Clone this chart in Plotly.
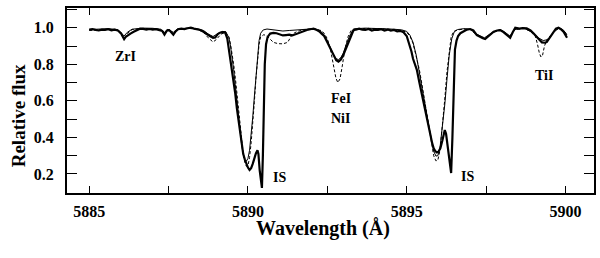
import plotly.graph_objects as go

# Observed spectrum (thick line)
obs_wl = [5885.00, 5885.10, 5885.20, 5885.30, 5885.40, 5885.50, 5885.60, 5885.70, 5885.80, 5885.90,
          5886.00, 5886.05, 5886.10, 5886.15, 5886.22, 5886.30, 5886.40, 5886.50, 5886.60, 5886.70,
          5886.80, 5886.90, 5887.00, 5887.10, 5887.20, 5887.30, 5887.37, 5887.45, 5887.52, 5887.58,
          5887.65, 5887.72, 5887.80, 5887.90, 5888.00, 5888.10, 5888.20, 5888.30, 5888.40, 5888.50,
          5888.60, 5888.70, 5888.80, 5888.90, 5888.97, 5889.05, 5889.12, 5889.20, 5889.28, 5889.35,
          5889.40, 5889.45, 5889.50, 5889.55, 5889.60, 5889.65, 5889.70, 5889.75, 5889.80, 5889.85,
          5889.90, 5889.95, 5890.00, 5890.05, 5890.10, 5890.15, 5890.20, 5890.25, 5890.30, 5890.33,
          5890.37, 5890.41, 5890.44, 5890.47, 5890.50, 5890.53, 5890.57, 5890.62, 5890.70, 5890.80,
          5890.90, 5891.00, 5891.10, 5891.20, 5891.30, 5891.40, 5891.50, 5891.60, 5891.70, 5891.80,
          5891.90, 5892.00, 5892.07, 5892.17, 5892.25, 5892.32, 5892.40, 5892.50, 5892.60, 5892.70,
          5892.78, 5892.85, 5892.92, 5893.00, 5893.08, 5893.17, 5893.25, 5893.32, 5893.40, 5893.50,
          5893.60, 5893.70, 5893.80, 5893.90, 5894.00, 5894.10, 5894.20, 5894.30, 5894.40, 5894.50,
          5894.60, 5894.70, 5894.80, 5894.90, 5895.00, 5895.05, 5895.10, 5895.15, 5895.20, 5895.25,
          5895.32, 5895.40, 5895.47, 5895.53, 5895.60, 5895.67, 5895.74, 5895.80, 5895.85, 5895.90,
          5895.95, 5896.00, 5896.06, 5896.12, 5896.16, 5896.20, 5896.24, 5896.30, 5896.36, 5896.40,
          5896.44, 5896.48, 5896.52, 5896.57, 5896.62, 5896.69, 5896.80, 5896.90, 5897.00, 5897.10,
          5897.21, 5897.30, 5897.40, 5897.47, 5897.55, 5897.65, 5897.74, 5897.85, 5897.94, 5898.02,
          5898.10, 5898.18, 5898.26, 5898.34, 5898.42, 5898.55, 5898.65, 5898.78, 5898.90, 5899.00,
          5899.05, 5899.15, 5899.26, 5899.35, 5899.41, 5899.50, 5899.62, 5899.70, 5899.78, 5899.86,
          5899.94, 5900.00, 5900.05]
obs_flux = [0.990, 0.992, 0.988, 0.985, 0.990, 0.988, 0.992, 0.986, 0.990, 0.985,
            0.970, 0.955, 0.938, 0.950, 0.960, 0.968, 0.978, 0.985, 0.995, 0.994,
            0.990, 0.993, 0.990, 0.992, 0.988, 0.982, 0.962, 0.985, 0.987, 0.975,
            0.962, 0.980, 0.992, 0.995, 0.993, 0.997, 1.000, 0.995, 0.993, 0.988,
            0.978, 0.965, 0.955, 0.945, 0.947, 0.965, 0.973, 0.976, 0.975, 0.940,
            0.890, 0.820, 0.760, 0.710, 0.640, 0.560, 0.495, 0.420, 0.350, 0.310,
            0.280, 0.255, 0.235, 0.222, 0.232, 0.255, 0.290, 0.312, 0.330, 0.310,
            0.220, 0.150, 0.124, 0.300, 0.600, 0.800, 0.910, 0.950, 0.968, 0.972,
            0.970, 0.962, 0.958, 0.960, 0.962, 0.958, 0.965, 0.970, 0.975, 0.985,
            0.990, 0.993, 0.995, 0.987, 0.980, 0.968, 0.955, 0.920, 0.885, 0.845,
            0.822, 0.815, 0.825, 0.850, 0.885, 0.920, 0.960, 0.985, 0.990, 0.995,
            0.990, 0.988, 0.993, 0.985, 0.990, 0.988, 0.992, 0.985, 0.990, 0.984,
            0.988, 0.980, 0.983, 0.975, 0.955, 0.930, 0.900, 0.870, 0.830, 0.800,
            0.770, 0.700, 0.640, 0.590, 0.520, 0.470, 0.420, 0.370, 0.340, 0.325,
            0.318, 0.322, 0.340, 0.380, 0.420, 0.440, 0.420, 0.330, 0.250, 0.205,
            0.400, 0.680, 0.880, 0.930, 0.955, 0.970, 0.980, 0.990, 0.993, 0.985,
            0.960, 0.950, 0.942, 0.938, 0.950, 0.968, 0.978, 0.985, 0.987, 0.980,
            0.970, 0.955, 0.945, 0.975, 1.000, 0.995, 0.998, 0.997, 0.985, 0.968,
            0.960, 0.940, 0.920, 0.918, 0.922, 0.945, 0.980, 0.995, 1.000, 0.992,
            0.978, 0.960, 0.945]

# Model 1 (thin solid)
m1_wl = [5885.00, 5885.30, 5885.60, 5885.90, 5886.00, 5886.10, 5886.20, 5886.35, 5886.70, 5887.00,
         5887.25, 5887.37, 5887.48, 5887.65, 5887.78, 5888.10, 5888.40, 5888.60, 5888.75, 5888.90,
         5889.05, 5889.20, 5889.30, 5889.40, 5889.45, 5889.50, 5889.55, 5889.60, 5889.65, 5889.70,
         5889.75, 5889.80, 5889.85, 5889.90, 5889.95, 5890.00, 5890.05, 5890.10, 5890.15, 5890.20,
         5890.25, 5890.30, 5890.35, 5890.40, 5890.48, 5890.60, 5890.75, 5890.90, 5891.10, 5891.30,
         5891.50, 5891.70, 5891.90, 5892.10, 5892.20, 5892.30, 5892.40, 5892.50, 5892.60, 5892.70,
         5892.78, 5892.85, 5892.92, 5893.00, 5893.10, 5893.20, 5893.30, 5893.40, 5893.70, 5894.00,
         5894.30, 5894.60, 5894.85, 5895.00, 5895.10, 5895.20, 5895.30, 5895.40, 5895.50, 5895.60,
         5895.70, 5895.78, 5895.85, 5895.92, 5895.98, 5896.05, 5896.12, 5896.20, 5896.27, 5896.34,
         5896.42, 5896.50, 5896.60, 5896.80, 5897.00, 5897.20, 5897.45, 5897.70, 5897.95, 5898.10,
         5898.25, 5898.40, 5898.70, 5898.95, 5899.15, 5899.30, 5899.45, 5899.62, 5899.80, 5899.95,
         5900.05]
m1_flux = [0.990, 0.992, 0.995, 0.990, 0.975, 0.955, 0.975, 0.992, 0.998, 0.997,
           0.992, 0.975, 0.992, 0.975, 0.993, 0.998, 0.995, 0.985, 0.965, 0.952,
           0.968, 0.980, 0.978, 0.945, 0.900, 0.840, 0.770, 0.690, 0.600, 0.510,
           0.430, 0.360, 0.310, 0.280, 0.270, 0.285, 0.330, 0.410, 0.510, 0.620,
           0.740, 0.850, 0.930, 0.970, 0.988, 0.993, 0.990, 0.985, 0.982, 0.985,
           0.988, 0.992, 0.995, 0.995, 0.990, 0.980, 0.960, 0.930, 0.890, 0.850,
           0.830, 0.826, 0.835, 0.860, 0.910, 0.955, 0.985, 0.995, 0.998, 0.997,
           0.995, 0.992, 0.988, 0.980, 0.960, 0.920, 0.850, 0.760, 0.660, 0.560,
           0.460, 0.380, 0.325, 0.298, 0.300, 0.345, 0.440, 0.580, 0.720, 0.850,
           0.940, 0.978, 0.990, 0.995, 0.992, 0.965, 0.945, 0.975, 0.990, 0.975,
           0.955, 0.990, 0.998, 0.975, 0.945, 0.930, 0.935, 0.975, 0.998, 0.985,
           0.960]

# Model 2 (dashed)
m2_wl = [5885.00, 5885.30, 5885.60, 5885.90, 5886.00, 5886.10, 5886.20, 5886.35, 5886.70, 5887.00,
         5887.25, 5887.37, 5887.48, 5887.65, 5887.78, 5888.10, 5888.40, 5888.60, 5888.75, 5888.90,
         5889.00, 5889.15, 5889.30, 5889.40, 5889.45, 5889.50, 5889.55, 5889.60, 5889.65, 5889.70,
         5889.75, 5889.80, 5889.85, 5889.90, 5889.95, 5890.00, 5890.05, 5890.10, 5890.15, 5890.20,
         5890.25, 5890.30, 5890.35, 5890.40, 5890.50, 5890.60, 5890.70, 5890.80, 5890.95, 5891.10,
         5891.25, 5891.40, 5891.55, 5891.80, 5892.10, 5892.30, 5892.40, 5892.50, 5892.60, 5892.70,
         5892.77, 5892.83, 5892.90, 5892.97, 5893.05, 5893.15, 5893.25, 5893.35, 5893.70, 5894.00,
         5894.30, 5894.60, 5894.85, 5895.00, 5895.10, 5895.20, 5895.30, 5895.40, 5895.50, 5895.60,
         5895.70, 5895.78, 5895.85, 5895.92, 5895.98, 5896.05, 5896.12, 5896.20, 5896.27, 5896.34,
         5896.40, 5896.48, 5896.60, 5896.80, 5897.00, 5897.20, 5897.45, 5897.70, 5897.95, 5898.10,
         5898.25, 5898.40, 5898.70, 5898.95, 5899.05, 5899.12, 5899.18, 5899.23, 5899.28, 5899.34,
         5899.42, 5899.55, 5899.70, 5899.80, 5899.95, 5900.05]
m2_flux = [0.985, 0.990, 0.992, 0.985, 0.965, 0.940, 0.968, 0.990, 0.996, 0.995,
           0.990, 0.968, 0.990, 0.968, 0.990, 0.997, 0.992, 0.975, 0.945, 0.922,
           0.935, 0.965, 0.975, 0.950, 0.910, 0.860, 0.800, 0.730, 0.650, 0.560,
           0.470, 0.380, 0.310, 0.265, 0.242, 0.245, 0.290, 0.370, 0.470, 0.590,
           0.720, 0.830, 0.910, 0.950, 0.962, 0.955, 0.935, 0.920, 0.913, 0.912,
           0.920, 0.965, 0.980, 0.990, 0.993, 0.985, 0.970, 0.940, 0.880, 0.790,
           0.725, 0.700, 0.720, 0.790, 0.880, 0.950, 0.985, 0.995, 0.997, 0.996,
           0.994, 0.990, 0.985, 0.975, 0.955, 0.915, 0.850, 0.770, 0.670, 0.560,
           0.450, 0.360, 0.300, 0.272, 0.275, 0.330, 0.450, 0.610, 0.760, 0.880,
           0.950, 0.980, 0.988, 0.993, 0.990, 0.962, 0.940, 0.972, 0.990, 0.972,
           0.950, 0.990, 0.997, 0.975, 0.955, 0.910, 0.860, 0.840, 0.850, 0.900,
           0.935, 0.960, 0.990, 0.998, 0.985, 0.960]

# Line identifications
label_text = ["ZrI", "FeI", "NiI", "IS", "IS", "TiI"]
label_wl = [5886.15, 5892.92, 5892.92, 5891.0, 5896.9, 5899.32]
label_flux = [0.84, 0.615, 0.505, 0.18, 0.184, 0.74]

FONT = "Liberation Serif"

fig = go.Figure()
fig.add_trace(go.Scatter(x=m2_wl, y=m2_flux, mode="lines",
                         line=dict(color="black", width=1, dash="3px,2px")))
fig.add_trace(go.Scatter(x=m1_wl, y=m1_flux, mode="lines",
                         line=dict(color="black", width=1)))
fig.add_trace(go.Scatter(x=obs_wl, y=obs_flux, mode="lines",
                         line=dict(color="black", width=2.2)))

for t, xv, yv in zip(label_text, label_wl, label_flux):
    fig.add_annotation(x=xv, y=yv, text=t, showarrow=False,
                       font=dict(family=FONT, size=14, color="black", weight="bold"))

# Axis titles placed in paper coordinates (plot area: x 67-594 px, y 8-193 px)
fig.add_annotation(xref="paper", yref="paper", x=-0.093, y=0.42, text="Relative flux",
                   textangle=-90, showarrow=False, xanchor="center", yanchor="middle",
                   font=dict(family=FONT, size=19, color="black", weight="bold"))
fig.add_annotation(xref="paper", yref="paper", x=0.485, y=-0.19, text="Wavelength (Å)",
                   showarrow=False, xanchor="center", yanchor="middle",
                   font=dict(family=FONT, size=20, color="black", weight="bold"))

fig.update_layout(
    width=600, height=258,
    margin=dict(l=67, r=6, t=8, b=65, autoexpand=False),
    paper_bgcolor="white", plot_bgcolor="white",
    showlegend=False,
)
fig.update_xaxes(range=[5884.3, 5900.9], showgrid=False, zeroline=False, automargin=False,
                 showline=True, linecolor="black", linewidth=2, mirror="ticks",
                 ticks="inside", ticklen=7, tickwidth=1, tickcolor="black",
                 tick0=5885, dtick=5, ticklabelstandoff=3,
                 minor=dict(ticks="inside", ticklen=7, tickwidth=1, tickcolor="black", dtick=2.5, tick0=5885),
                 tickfont=dict(family=FONT, size=16, color="black", weight="bold"))
fig.update_yaxes(range=[0.096, 1.108], showgrid=False, zeroline=False, automargin=False,
                 showline=True, linecolor="black", linewidth=2, mirror="ticks",
                 ticks="inside", ticklen=10, tickwidth=1, tickcolor="black",
                 tick0=0.2, dtick=0.2, tickformat=".1f", ticklabelstandoff=8,
                 minor=dict(ticks="inside", ticklen=10, tickwidth=1, tickcolor="black", dtick=0.1, tick0=0.1),
                 tickfont=dict(family=FONT, size=16, color="black", weight="bold"))

fig.write_html("out.html", config={"displayModeBar": False},
               post_script="document.body.style.margin='0px';")
